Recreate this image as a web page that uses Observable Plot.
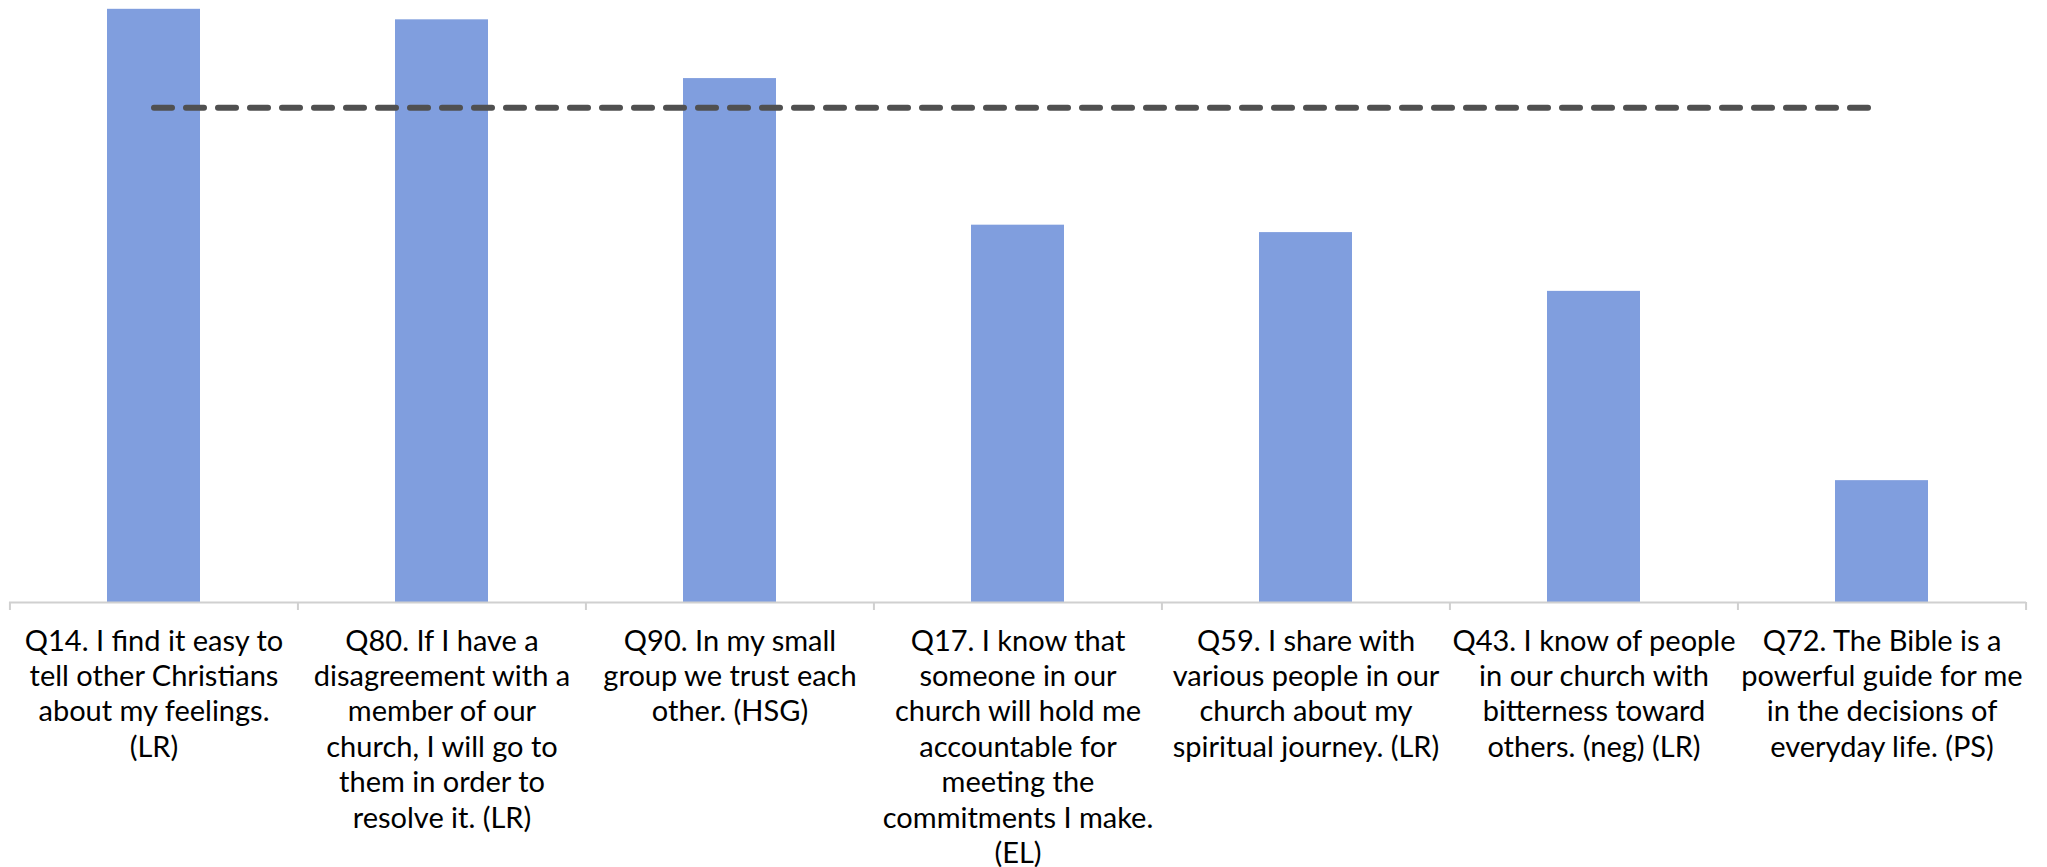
<!DOCTYPE html>
<html>
<head>
<meta charset="utf-8">
<script src="https://cdn.jsdelivr.net/npm/d3@7"></script>
<script src="https://cdn.jsdelivr.net/npm/@observablehq/plot@0.6"></script>
<style>
  html, body { margin: 0; padding: 0; background: #fff; }
  #chart svg { display: block; }
</style>
</head>
<body>
<div id="chart"></div>
<script>
const categories = [
  "Q14. I find it easy to\ntell other Christians\nabout my feelings.\n(LR)",
  "Q80. If I have a\ndisagreement with a\nmember of our\nchurch, I will go to\nthem in order to\nresolve it. (LR)",
  "Q90. In my small\ngroup we trust each\nother. (HSG)",
  "Q17. I know that\nsomeone in our\nchurch will hold me\naccountable for\nmeeting the\ncommitments I make.\n(EL)",
  "Q59. I share with\nvarious people in our\nchurch about my\nspiritual journey. (LR)",
  "Q43. I know of people\nin our church with\nbitterness toward\nothers. (neg) (LR)",
  "Q72. The Bible is a\npowerful guide for me\nin the decisions of\neveryday life. (PS)"
];
const values = [95.9, 94.2, 84.7, 61.0, 59.8, 50.3, 19.7];
const benchmark = [80, 80, 80, 80, 80, 80, 80];

const data = categories.map((c, i) => ({cat: c, value: values[i], bench: benchmark[i]}));

const W = 2047, H = 867;
const mL = 9, mR = 21, mT = 2, mB = 265;
const padIn = 0.676;
const step = (W - mL - mR) / categories.length;

const chart = Plot.plot({
  width: W,
  height: H,
  marginLeft: mL,
  marginRight: mR,
  marginTop: mT,
  marginBottom: mB,
  style: {fontFamily: "Lato, sans-serif", fontSize: "29px", color: "#000", background: "#fff"},
  x: {domain: categories, paddingInner: padIn, paddingOuter: padIn / 2, align: 0.5, label: null},
  y: {domain: [0, 97], axis: null},
  marks: [
    Plot.barY(data, {x: "cat", y: "value", fill: "#809ede"}),
    Plot.ruleY([0], {stroke: "#d0d0d0", strokeWidth: 2}),
    Plot.ruleX(categories, {x: (d) => d, y1: 0, y2: 0, dx: -step / 2, insetBottom: -8, stroke: "#d0d0d0", strokeWidth: 2}),
    Plot.ruleX(categories.slice(-1), {x: (d) => d, y1: 0, y2: 0, dx: step / 2, insetBottom: -8, stroke: "#d0d0d0", strokeWidth: 2}),
    Plot.lineY(data, {x: "cat", y: "bench", stroke: "#505050", strokeWidth: 6, strokeDasharray: "18,14", strokeLinecap: "round"}),
    Plot.axisX({tickSize: 0, tickPadding: 23, lineHeight: 1.22, lineAnchor: "top", fill: "#000", fontSize: 29})
  ]
});
document.getElementById("chart").appendChild(chart);
</script>
</body>
</html>
